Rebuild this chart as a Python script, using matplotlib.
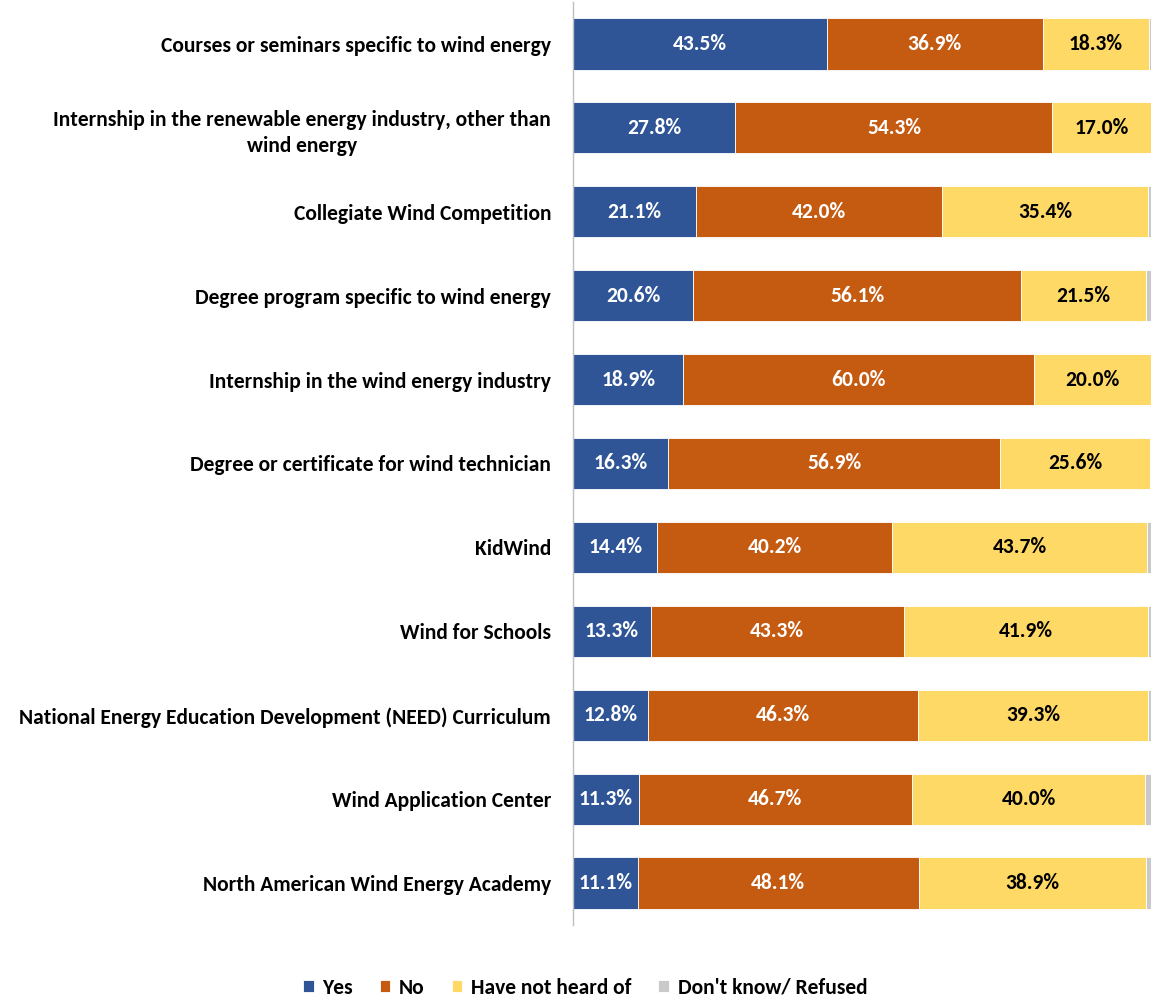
import matplotlib.pyplot as plt
import numpy as np

categories = [
    "Courses or seminars specific to wind energy",
    "Internship in the renewable energy industry, other than\nwind energy",
    "Collegiate Wind Competition",
    "Degree program specific to wind energy",
    "Internship in the wind energy industry",
    "Degree or certificate for wind technician",
    "KidWind",
    "Wind for Schools",
    "National Energy Education Development (NEED) Curriculum",
    "Wind Application Center",
    "North American Wind Energy Academy",
]
yes = [43.5, 27.8, 21.1, 20.6, 18.9, 16.3, 14.4, 13.3, 12.8, 11.3, 11.1]
no = [36.9, 54.3, 42.0, 56.1, 60.0, 56.9, 40.2, 43.3, 46.3, 46.7, 48.1]
not_heard = [18.3, 17.0, 35.4, 21.5, 20.0, 25.6, 43.7, 41.9, 39.3, 40.0, 38.9]
dont_know = [1.3, 0.9, 1.5, 1.8, 1.1, 1.2, 1.7, 1.5, 1.6, 2.0, 1.9]

series_names = ["Yes", "No", "Have not heard of", "Don't know/ Refused"]
series_colors = ["#2F5597", "#C55A11", "#FFD966", "#C9C9C9"]
label_colors = ["white", "white", "black", None]

plt.rcParams["font.family"] = ["Carlito", "DejaVu Sans"]
plt.rcParams["font.weight"] = "bold"
FS = 15.5

W, H = 1151, 1002
fig = plt.figure(figsize=(W / 100, H / 100), dpi=100)
ax_left = 573 / W
ax_right = 1157 / W
ax_top = 1 - 2 / H
ax_bottom = 1 - 925 / H
ax = fig.add_axes([ax_left, ax_bottom, ax_right - ax_left, ax_top - ax_bottom])

y = np.arange(len(categories))
left = np.zeros(len(categories))
for vals, name, color, lc in zip([yes, no, not_heard, dont_know], series_names,
                                 series_colors, label_colors):
    vals = np.array(vals)
    ax.barh(y, vals, left=left, height=0.61, color=color, label=name,
            edgecolor="white", linewidth=0.6)
    if lc is not None:
        for yi, l, v in zip(y, left, vals):
            ax.text(l + v / 2, yi, f"{v:.1f}%", ha="center", va="center",
                    color=lc, fontsize=FS, fontweight="bold")
    left += vals

ax.set_xlim(0, 100)
ax.set_ylim(len(categories) - 0.5, -0.5)
ax.set_yticks(y)
ax.set_yticklabels(categories, fontsize=FS, fontweight="bold",
                   multialignment="center", linespacing=1.4)
ax.tick_params(axis="y", length=0, pad=15.8)
ax.set_xticks([])
for s in ["top", "right", "bottom"]:
    ax.spines[s].set_visible(False)
ax.spines["left"].set_color("#BFBFBF")
ax.spines["left"].set_linewidth(1)

fig.legend(loc="center", bbox_to_anchor=(585 / W, 1 - 988 / H), ncol=4,
           frameon=False, fontsize=FS, handlelength=0.5, handleheight=0.5,
           handletextpad=0.4, columnspacing=1.25)

fig.savefig("out.png", dpi=100)
